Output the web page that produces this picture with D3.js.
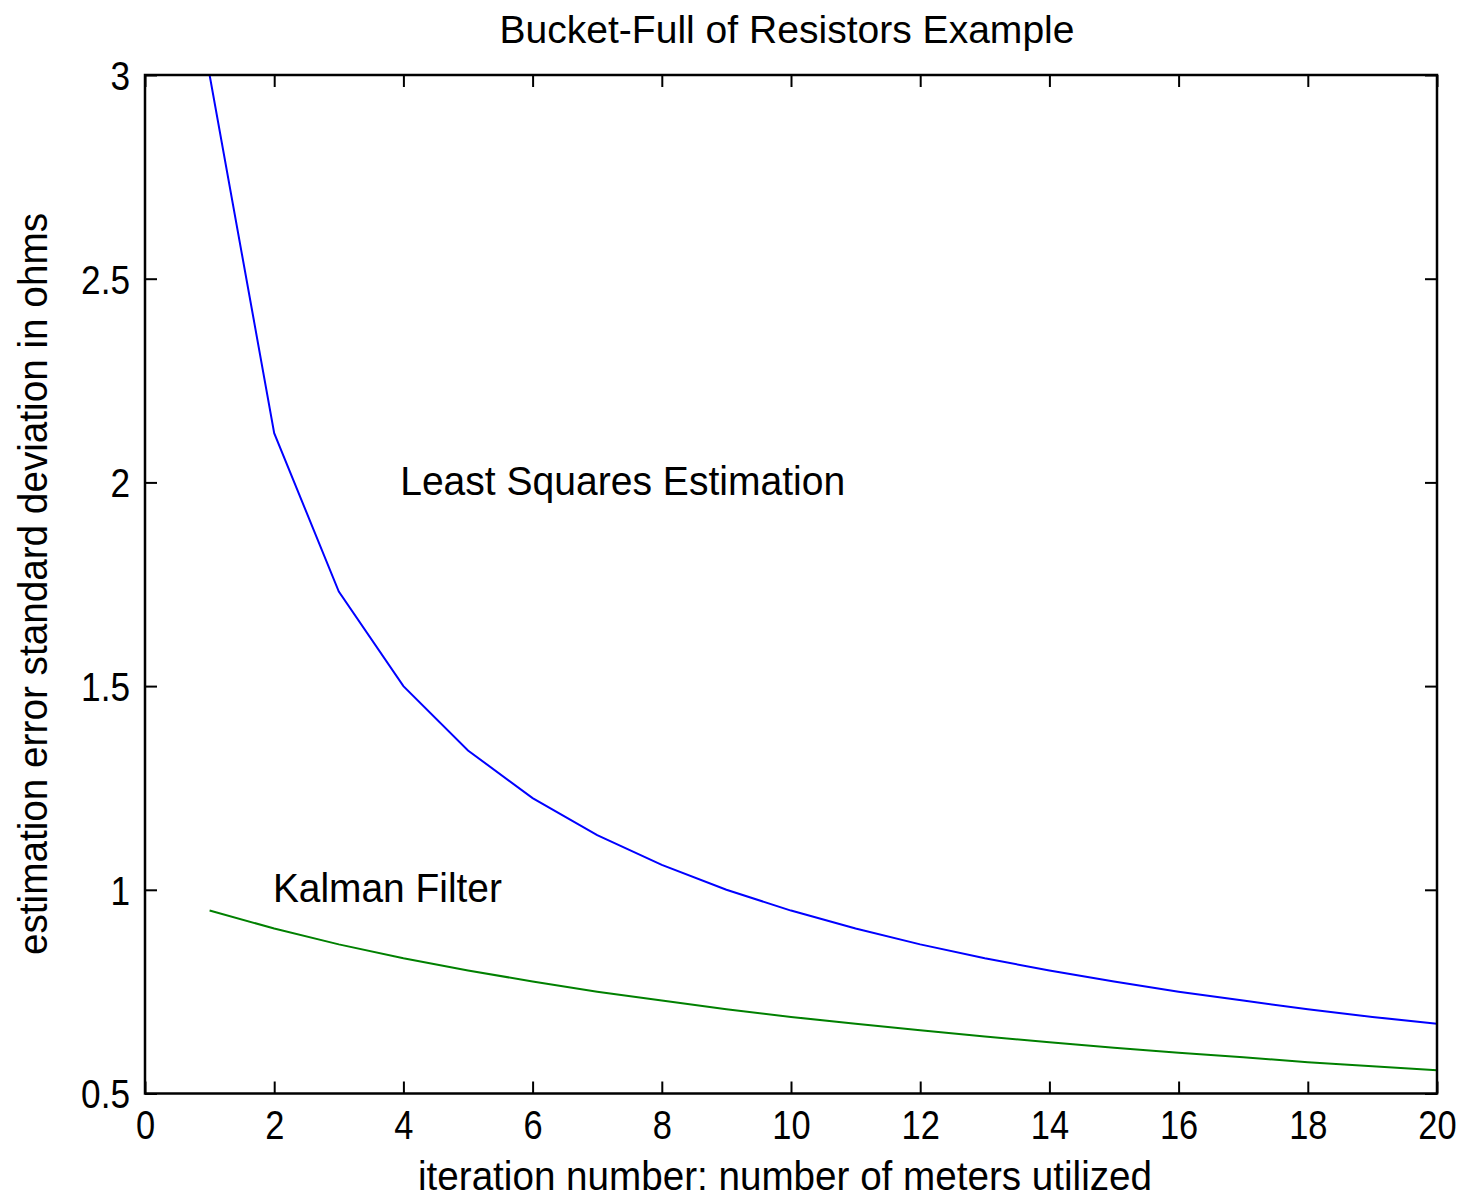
<!DOCTYPE html>
<html>
<head>
<meta charset="utf-8">
<script src="https://cdn.jsdelivr.net/npm/d3@7"></script>
<style>
  html, body { margin: 0; padding: 0; background: #fff; }
  svg { display: block; }
  text { font-family: "Liberation Sans", Arial, sans-serif; fill: #000; }
</style>
</head>
<body>
<svg id="chart" width="1462" height="1198"></svg>
<script>
// ---- data ----
const iterations = [1,2,3,4,5,6,7,8,9,10,11,12,13,14,15,16,17,18,19,20];
const leastSquares = [3.000,2.121,1.732,1.500,1.342,1.225,1.134,1.061,1.000,0.949,0.905,0.866,0.832,0.802,0.775,0.750,0.728,0.707,0.688,0.671];
const kalman = [0.949,0.905,0.866,0.832,0.802,0.775,0.750,0.728,0.707,0.688,0.671,0.655,0.640,0.626,0.612,0.600,0.589,0.577,0.567,0.557];
const xTicks = [0,2,4,6,8,10,12,14,16,18,20];
const yTicks = [0.5,1,1.5,2,2.5,3];
const yTickLabels = ["0.5","1","1.5","2","2.5","3"];
const titleText = "Bucket-Full of Resistors Example";
const xLabelText = "iteration number: number of meters utilized";
const yLabelText = "estimation error standard deviation in ohms";
const annotations = [
  {text: "Least Squares Estimation", x: 3.95, y: 1.97},
  {text: "Kalman Filter", x: 1.98, y: 0.97}
];

// ---- layout ----
const svg = d3.select("#chart");
const L = 145, R = 1437, T = 75, B = 1093.5;
const x = d3.scaleLinear().domain([0, 20]).range([L, R]);
const y = d3.scaleLinear().domain([0.5, 3]).range([B, T]);

function fit(sel, w) {
  sel.attr("textLength", w).attr("lengthAdjust", "spacingAndGlyphs");
}
function narrow(sel, f) {
  sel.each(function() {
    const len = this.getComputedTextLength();
    d3.select(this).attr("textLength", len * f).attr("lengthAdjust", "spacingAndGlyphs");
  });
}

svg.append("defs").append("clipPath").attr("id", "clip")
  .append("rect").attr("x", L).attr("y", T).attr("width", R - L).attr("height", B - T);

// ---- lines ----
const line = d3.line().x((d, i) => x(iterations[i])).y(d => y(d));
const plot = svg.append("g").attr("clip-path", "url(#clip)");
plot.append("path").datum(leastSquares).attr("d", line)
  .attr("fill", "none").attr("stroke", "#0000ff").attr("stroke-width", 2);
plot.append("path").datum(kalman).attr("d", line)
  .attr("fill", "none").attr("stroke", "#008000").attr("stroke-width", 2);

// ---- axes (ticks inward on all four sides) ----
const tickLen = 12;
function styleAxis(g) {
  g.select(".domain").remove();
  g.selectAll(".tick line").attr("stroke", "#000").attr("stroke-width", 2);
}
const gx = svg.append("g").attr("transform", `translate(0,${B})`)
  .call(d3.axisBottom(x).tickValues(xTicks).tickSize(-tickLen).tickFormat(d => String(d)))
  .call(styleAxis);
gx.selectAll(".tick text").attr("y", 17).attr("dy", "0.71em")
  .attr("font-size", 40).attr("font-family", "Liberation Sans, Arial, sans-serif")
  .call(narrow, 0.86);

svg.append("g").attr("transform", `translate(0,${T})`)
  .call(d3.axisTop(x).tickValues(xTicks).tickSize(-tickLen).tickFormat(""))
  .call(styleAxis);

const gy = svg.append("g").attr("transform", `translate(${L},0)`)
  .call(d3.axisLeft(y).tickValues(yTicks).tickSize(-tickLen).tickFormat((d, i) => yTickLabels[i]))
  .call(styleAxis);
gy.selectAll(".tick text").attr("x", -15).attr("dy", "0.36em")
  .attr("font-size", 40).attr("font-family", "Liberation Sans, Arial, sans-serif")
  .call(narrow, 0.88);

svg.append("g").attr("transform", `translate(${R},0)`)
  .call(d3.axisRight(y).tickValues(yTicks).tickSize(-tickLen).tickFormat(""))
  .call(styleAxis);

// frame
svg.append("rect").attr("x", L).attr("y", T).attr("width", R - L).attr("height", B - T)
  .attr("fill", "none").attr("stroke", "#000").attr("stroke-width", 2.5);

// ---- text ----
svg.append("text").attr("x", 787).attr("y", 43).attr("text-anchor", "middle")
  .attr("font-size", 38).text(titleText).call(fit, 575);

svg.append("text").attr("x", 785).attr("y", 1190).attr("text-anchor", "middle")
  .attr("font-size", 40).text(xLabelText).call(fit, 734);

svg.append("text").attr("transform", "translate(47,584) rotate(-90)").attr("text-anchor", "middle")
  .attr("font-size", 40).text(yLabelText).call(fit, 742);

const annWidths = [445, 229];
svg.selectAll("text.ann").data(annotations).enter().append("text")
  .attr("class", "ann")
  .attr("x", d => x(d.x)).attr("y", d => y(d.y))
  .attr("font-size", 41)
  .text(d => d.text)
  .each(function(d, i) { d3.select(this).call(fit, annWidths[i]); });
</script>
</body>
</html>
